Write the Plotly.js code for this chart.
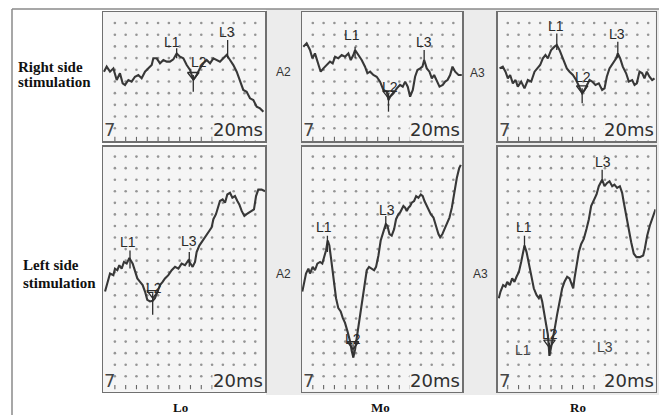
<!DOCTYPE html>
<html><head><meta charset="utf-8">
<script src="https://cdn.plot.ly/plotly-3.0.1.min.js"></script>
<style>html,body{margin:0;padding:0;background:#fff}#chart{width:659px;height:415px}</style>
</head><body><div id="chart"></div>
<script>
// time in grid divisions from panel start, amplitude in divisions relative to the A2/A3 reference level
const loRightT = [0.09,0.34,0.65,0.96,1.27,1.57,1.82,2.04,2.35,2.65,2.96,3.27,3.58,3.89,4.20,4.51,4.66,4.97,5.28,5.59,5.90,6.20,6.51,6.82,7.13,7.44,7.75,8.06,8.36,8.67,8.98,9.29,9.60,9.91,10.22,10.52,10.83,11.14,11.45,11.76,12.07,12.38,12.69,12.99,13.30,13.61,13.92,14.23,14.54,14.85];
const loRightA = [0.03,0.50,0.03,0.34,-0.75,-0.12,-1.06,-1.21,-0.75,-0.90,-0.44,-0.28,-0.59,0.03,0.34,0.65,1.28,1.28,0.81,1.12,0.97,0.97,1.18,1.74,1.43,1.28,0.65,0.19,-0.75,-0.28,0.34,0.81,1.12,0.81,1.28,1.12,0.97,1.28,1.59,1.12,0.65,0.03,-0.75,-1.68,-1.84,-2.46,-2.62,-3.24,-3.40,-3.71];
const moRightT = [0.12,0.43,0.74,0.96,1.20,1.51,1.73,1.98,2.28,2.59,2.84,3.06,3.36,3.67,3.98,4.29,4.51,4.75,4.91,5.22,5.52,5.83,6.05,6.30,6.60,6.91,7.22,7.53,7.84,8.00,8.15,8.46,8.77,9.07,9.32,9.54,9.78,10.00,10.25,10.46,10.68,10.93,11.14,11.30,11.54,11.79,12.01,12.22,12.47,12.72,13.02,13.24,13.46,13.70,13.92,14.17,14.48,14.78];
const moRightA = [2.37,2.68,2.06,1.28,1.74,0.65,0.03,0.34,0.65,0.97,0.81,1.43,1.28,1.59,1.43,1.74,1.12,1.59,2.06,1.59,1.12,0.50,-0.12,0.03,-0.28,-0.44,-0.90,-1.68,-1.84,-2.62,-2.31,-1.99,-1.53,-1.21,-1.37,-0.90,-1.37,-2.31,-1.68,-0.44,0.19,0.34,0.50,1.12,0.34,0.03,-0.59,-0.28,-0.90,-1.37,-1.21,-0.90,-0.75,-0.28,0.50,0.03,-0.28,-0.28];
const roRightT = [0.19,0.49,0.74,0.96,1.17,1.42,1.67,1.88,2.19,2.50,2.81,3.12,3.43,3.73,3.95,4.20,4.44,4.66,4.97,5.28,5.49,5.74,5.99,6.20,6.42,6.67,6.98,7.28,7.59,7.84,8.06,8.27,8.52,8.77,9.07,9.38,9.69,9.91,10.12,10.37,10.68,10.99,11.14,11.36,11.60,11.91,12.16,12.47,12.69,12.90,13.15,13.40,13.61,13.83,14.07,14.32,14.54];
const roRightA = [0.34,0.50,0.03,-0.59,-0.28,-1.06,-0.75,-1.37,-0.90,-1.53,-0.75,-0.90,0.03,0.34,0.65,1.28,1.59,1.28,2.06,2.37,2.52,2.06,1.43,0.81,0.34,0.03,-0.28,-0.75,-1.37,-1.99,-1.68,-1.21,-0.75,-0.90,-1.21,-1.06,-1.68,-1.53,-0.44,0.34,0.81,1.28,1.74,1.28,0.50,-0.12,-0.90,-0.75,-1.21,-1.06,0.03,-0.12,-0.59,0.03,-0.44,-0.75,-0.59];
const loLeftT = [0.19,0.34,0.65,0.96,1.11,1.33,1.51,1.73,1.94,2.19,2.35,2.44,2.75,2.96,3.18,3.43,3.67,3.89,4.10,4.35,4.60,4.81,5.03,5.28,5.52,5.74,6.05,6.36,6.67,6.98,7.28,7.59,7.90,8.12,8.30,8.52,8.67,8.92,9.14,9.35,9.60,9.85,10.06,10.22,10.46,10.68,10.83,11.08,11.30,11.51,11.76,11.98,12.22,12.44,12.62,12.84,13.09,13.30,13.55,13.77,13.98,14.17,14.38,14.69,15.00];
const loLeftA = [-1.72,-1.16,-0.17,-0.31,0.25,0.11,0.54,0.25,0.82,0.68,1.10,1.16,0.68,-0.03,-0.59,-0.88,-1.16,-1.72,-2.43,-2.57,-2.51,-2.29,-1.72,-1.16,-0.88,-0.59,-0.31,0.11,0.40,0.25,0.68,0.54,0.96,0.68,0.40,0.82,1.67,2.23,2.51,2.80,3.08,3.50,3.79,4.49,4.92,5.62,6.05,6.19,5.90,6.61,6.75,6.33,6.47,6.05,5.76,5.20,4.77,4.92,5.06,5.20,5.34,6.47,7.03,7.03,6.89];
const moLeftT = [0.03,0.19,0.37,0.59,0.74,0.99,1.20,1.42,1.67,1.88,2.04,2.22,2.38,2.53,2.69,2.84,2.99,3.15,3.36,3.58,3.77,3.98,4.20,4.44,4.60,4.75,4.91,5.06,5.22,5.37,5.62,5.83,5.99,6.20,6.45,6.67,6.85,7.07,7.28,7.53,7.75,7.90,8.09,8.30,8.52,8.70,8.92,9.07,9.23,9.38,9.54,9.69,9.85,10.00,10.15,10.37,10.56,10.77,10.99,11.17,11.33,11.54,11.76,11.91,12.16,12.41,12.62,12.78,12.99,13.18,13.40,13.64,13.86,14.07,14.32,14.54,14.69];
const moLeftA = [-1.72,-0.88,-0.17,0.25,-0.17,0.40,0.11,0.68,0.82,0.68,1.24,1.81,2.66,2.23,1.10,-0.03,-1.16,-2.29,-3.14,-3.42,-3.98,-4.41,-5.11,-5.96,-6.81,-7.37,-6.67,-5.68,-4.83,-3.70,-2.01,-0.59,0.11,0.40,0.25,0.11,0.40,1.38,2.66,3.36,4.07,3.93,3.22,3.08,3.64,4.49,4.92,5.06,5.34,5.62,5.48,5.20,5.48,5.62,5.90,6.05,6.47,6.33,6.61,6.47,6.05,5.62,5.20,4.92,4.63,3.79,3.22,2.94,3.22,3.64,4.07,4.63,5.48,6.75,8.02,8.87,9.15];
const roLeftT = [0.12,0.28,0.52,0.74,0.90,1.14,1.36,1.57,1.76,1.98,2.19,2.38,2.50,2.69,2.90,3.12,3.36,3.61,3.83,3.98,4.14,4.35,4.54,4.66,4.81,4.97,5.12,5.31,5.52,5.77,5.99,6.20,6.45,6.67,6.85,7.01,7.13,7.31,7.53,7.75,7.99,8.24,8.46,8.67,8.92,9.17,9.38,9.54,9.69,9.91,10.15,10.37,10.62,10.83,11.08,11.33,11.54,11.70,11.91,12.16,12.38,12.62,12.87,13.18,13.49,13.64,13.86,14.10,14.32,14.63];
const roLeftA = [-2.29,-1.72,-1.16,-1.30,-0.88,-1.16,-0.59,-0.88,-0.45,-0.03,0.82,1.67,2.23,1.67,0.54,-0.31,-1.44,-2.01,-2.29,-2.01,-2.57,-3.70,-4.55,-5.40,-7.23,-6.53,-5.68,-4.83,-3.70,-2.57,-1.44,-0.88,-0.45,-0.59,-1.16,-1.44,-0.59,0.54,1.67,2.37,2.80,3.64,4.49,5.62,6.05,6.61,7.32,7.60,7.88,7.32,7.60,7.74,7.32,7.46,7.18,7.32,6.75,5.90,4.77,3.64,2.51,1.53,1.24,1.24,1.38,1.95,3.08,3.93,4.49,5.34];

// peak cursors L1, L2, L3: time, upper and lower ends of the cursor mark
const peakNames = ['L1','L2','L3'];
const loRightPeakT = [6.82,8.36,11.54], loRightPeakHi = [2.21,-0.28,2.99], loRightPeakLo = [1.28,-1.84,1.28];
const moRightPeakT = [4.91,8.00,11.30], moRightPeakHi = [2.37,-1.99,2.06], moRightPeakLo = [1.28,-3.71,1.12];
const roRightPeakT = [5.49,7.84,11.14], roRightPeakHi = [3.61,-1.53,2.83], roRightPeakLo = [2.06,-2.93,1.28];
const loLeftPeakT = [2.50,4.60,7.99], loLeftPeakHi = [1.81,-1.86,1.67], loLeftPeakLo = [0.25,-3.70,0.40];
const moLeftPeakT = [2.35,4.72,7.75], moLeftPeakHi = [3.08,-6.24,4.77], moLeftPeakLo = [1.67,-7.37,3.64];
const roLeftPeakT = [2.50,4.81,9.69], roLeftPeakHi = [3.08,-6.10,8.73], roLeftPeakLo = [1.95,-7.23,7.60];
// label positions
const loRightLabT = [6.36,8.89,11.51], loRightLabA = [2.83,0.97,3.77];
const moRightLabT = [4.60,8.15,11.30], moRightLabA = [3.46,-1.43,2.83];
const roRightLabT = [5.43,7.90,11.05], roRightLabA = [4.30,-0.50,3.55];
const loLeftLabT = [2.35,4.72,7.96], loLeftLabA = [2.51,-1.38,2.66];
const moLeftLabT = [2.01,4.69,7.90], moLeftLabA = [3.79,-5.82,5.28];
const roLeftLabT = [2.44,4.85,9.78], roLeftLabA = [3.79,-5.40,9.44];
const roLeftGhostNames = ['L1','L3'], roLeftGhostT = [2.38,9.91], roLeftGhostA = [-6.75,-6.47];

const columnNames = ['Lo','Mo','Ro'];
const rowNames = [['Right side','stimulation'],['Left side','stimulation']];
const channelNames = ['A2','A3'];
const scaleLabel = '20ms';

const W = 659, H = 415;
const px = v => v / W, py = v => 1 - v / H;
const TOP = {y: [12, 141], range: [-6.45, 5.61], row0: 4.58, rowStep: -1.093, rowN: 10, tickRow: -6.26};
const BOT = {y: [146.7, 391.7], range: [-10.31, 10.71], row0: 9.86, rowStep: -0.992, rowN: 20, tickRow: -9.92};

const panels = [
  {t: loRightT, a: loRightA, pt: loRightPeakT, ph: loRightPeakHi, pl: loRightPeakLo, lt: loRightLabT, la: loRightLabA, x: [103, 265], xr: [0, 15.0], c0: 1.1, row: TOP},
  {t: moRightT, a: moRightA, pt: moRightPeakT, ph: moRightPeakHi, pl: moRightPeakLo, lt: moRightLabT, la: moRightLabA, x: [302, 462], xr: [0, 14.8], c0: 1.0, row: TOP},
  {t: roRightT, a: roRightA, pt: roRightPeakT, ph: roRightPeakHi, pl: roRightPeakLo, lt: roRightLabT, la: roRightLabA, x: [497.5, 655.5], xr: [0, 14.63], c0: 0.95, row: TOP},
  {t: loLeftT, a: loLeftA, pt: loLeftPeakT, ph: loLeftPeakHi, pl: loLeftPeakLo, lt: loLeftLabT, la: loLeftLabA, x: [103, 265], xr: [0, 15.0], c0: 1.1, row: BOT},
  {t: moLeftT, a: moLeftA, pt: moLeftPeakT, ph: moLeftPeakHi, pl: moLeftPeakLo, lt: moLeftLabT, la: moLeftLabA, x: [302, 462], xr: [0, 14.8], c0: 1.0, row: BOT},
  {t: roLeftT, a: roLeftA, pt: roLeftPeakT, ph: roLeftPeakHi, pl: roLeftPeakLo, lt: roLeftLabT, la: roLeftLabA, x: [497.5, 655.5], xr: [0, 14.63], c0: 0.95, row: BOT}
];

const data = [];
const layout = {
  width: W, height: H, margin: {l: 0, r: 0, t: 0, b: 0},
  paper_bgcolor: '#ffffff', plot_bgcolor: 'rgba(0,0,0,0)', showlegend: false,
  shapes: [
    {type: 'rect', xref: 'paper', yref: 'paper', x0: px(266), x1: 1, y0: py(395), y1: py(9), fillcolor: '#ececec', line: {width: 0}, layer: 'below'},
    {type: 'line', xref: 'paper', yref: 'paper', x0: px(12), x1: 1, y0: py(9), y1: py(9), line: {color: '#8a8a8a', width: 1.5}},
    {type: 'line', xref: 'paper', yref: 'paper', x0: px(12), x1: px(12), y0: 0, y1: py(9), line: {color: '#8a8a8a', width: 1.5}}
  ],
  annotations: []
};

const ink = '#383838';
const sansFont = 'Liberation Sans, Arial, sans-serif';
const serifFont = 'Liberation Serif, Times New Roman, serif';

panels.forEach((p, i) => {
  const n = i + 1, sx = n === 1 ? '' : String(n);
  const xa = 'x' + sx, ya = 'y' + sx;
  const common = {showgrid: false, zeroline: false, showticklabels: false, ticks: '', fixedrange: true,
    showline: true, mirror: true, linecolor: '#707070', linewidth: 1.5};
  layout['xaxis' + sx] = Object.assign({}, common, {domain: [px(p.x[0]), px(p.x[1])], range: p.xr, anchor: ya});
  layout['yaxis' + sx] = Object.assign({}, common, {domain: [py(p.row.y[1]), py(p.row.y[0])], range: p.row.range, anchor: xa});
  layout.shapes.push({type: 'rect', xref: xa + ' domain', yref: ya + ' domain', x0: 0, x1: 1, y0: 0, y1: 1,
    fillcolor: '#f5f5f5', line: {width: 0}, layer: 'below'});

  // dotted graticule
  const gx = [], gy = [];
  for (let c = 0; c < 14; c++) for (let r = 0; r < p.row.rowN; r++) {
    gx.push(p.c0 + c); gy.push(p.row.row0 + r * p.row.rowStep);
  }
  data.push({type: 'scatter', mode: 'markers', x: gx, y: gy, xaxis: xa, yaxis: ya, hoverinfo: 'skip',
    marker: {size: 2.6, color: '#959595'}});
  const tx = [], ty = [];
  for (let c = 0; c < 14; c++) { tx.push(p.c0 + c); ty.push(p.row.tickRow); }
  data.push({type: 'scatter', mode: 'markers', x: tx, y: ty, xaxis: xa, yaxis: ya, hoverinfo: 'skip',
    marker: {symbol: 'line-ns', size: 3, color: '#666', line: {width: 1.1, color: '#666'}}});

  // waveform
  data.push({type: 'scatter', mode: 'lines', x: p.t, y: p.a, xaxis: xa, yaxis: ya, hoverinfo: 'skip',
    line: {color: ink, width: 2.1}});

  // cursor marks
  const cx = [], cy = [];
  p.pt.forEach((t, k) => { cx.push(t, t, null); cy.push(p.ph[k], p.pl[k], null); });
  data.push({type: 'scatter', mode: 'lines', x: cx, y: cy, xaxis: xa, yaxis: ya, hoverinfo: 'skip',
    line: {color: '#2e2e2e', width: 1.3}});
  data.push({type: 'scatter', mode: 'markers', x: [p.pt[1]], y: [p.ph[1]], xaxis: xa, yaxis: ya, hoverinfo: 'skip',
    marker: {symbol: 'triangle-down-open', size: 10, color: '#2e2e2e', line: {width: 1.3, color: '#2e2e2e'}}});

  peakNames.forEach((nm, k) => {
    layout.annotations.push({xref: xa, yref: ya, x: p.lt[k], y: p.la[k], xanchor: 'center', yanchor: 'middle', text: nm, showarrow: false,
      font: {family: sansFont, size: 14, color: '#2a2a2a'}});
  });

  layout.annotations.push({xref: xa + ' domain', yref: ya + ' domain', x: 0.995, y: 0, xanchor: 'right', yanchor: 'bottom',
    text: scaleLabel, showarrow: false, bgcolor: '#f5f5f5', borderpad: 0,
    font: {family: 'DejaVu Sans, sans-serif', size: 18, color: '#303030'}});
  layout.annotations.push({xref: xa + ' domain', yref: ya + ' domain', x: 0, y: 0, xanchor: 'left', yanchor: 'bottom',
    text: '7', showarrow: false, borderpad: 0, font: {family: 'DejaVu Sans, sans-serif', size: 18, color: '#454545'}});
});

roLeftGhostNames.forEach((nm, k) => {
  layout.annotations.push({xref: 'x6', yref: 'y6', x: roLeftGhostT[k], y: roLeftGhostA[k], xanchor: 'center', yanchor: 'middle', text: nm, showarrow: false,
    font: {family: sansFont, size: 14, color: '#444'}});
});

// channel labels
[[283, 72, 0], [477, 73, 1], [283, 274, 0], [480, 274, 1]].forEach(c => {
  layout.annotations.push({xref: 'paper', yref: 'paper', x: px(c[0]), y: py(c[1]), xanchor: 'center', yanchor: 'middle',
    text: channelNames[c[2]], showarrow: false, font: {family: sansFont, size: 12, color: '#333'}});
});
// row labels
[[16, 66.7, 0, 0], [16, 81.7, 0, 1], [21, 265, 1, 0], [21, 282.7, 1, 1]].forEach(r => {
  layout.annotations.push({xref: 'paper', yref: 'paper', x: px(r[0]), y: py(r[1]), xanchor: 'left', yanchor: 'middle',
    text: '<b>' + rowNames[r[2]][r[3]] + '</b>', showarrow: false, font: {family: serifFont, size: 15, color: '#111'}});
});
// column labels
[181, 380, 578].forEach((xc, k) => {
  layout.annotations.push({xref: 'paper', yref: 'paper', x: px(xc), y: py(407), xanchor: 'center', yanchor: 'middle',
    text: '<b>' + columnNames[k] + '</b>', showarrow: false, font: {family: serifFont, size: 13, color: '#111'}});
});

Plotly.newPlot('chart', data, layout, {staticPlot: true, displayModeBar: false});
</script>
</body></html>
